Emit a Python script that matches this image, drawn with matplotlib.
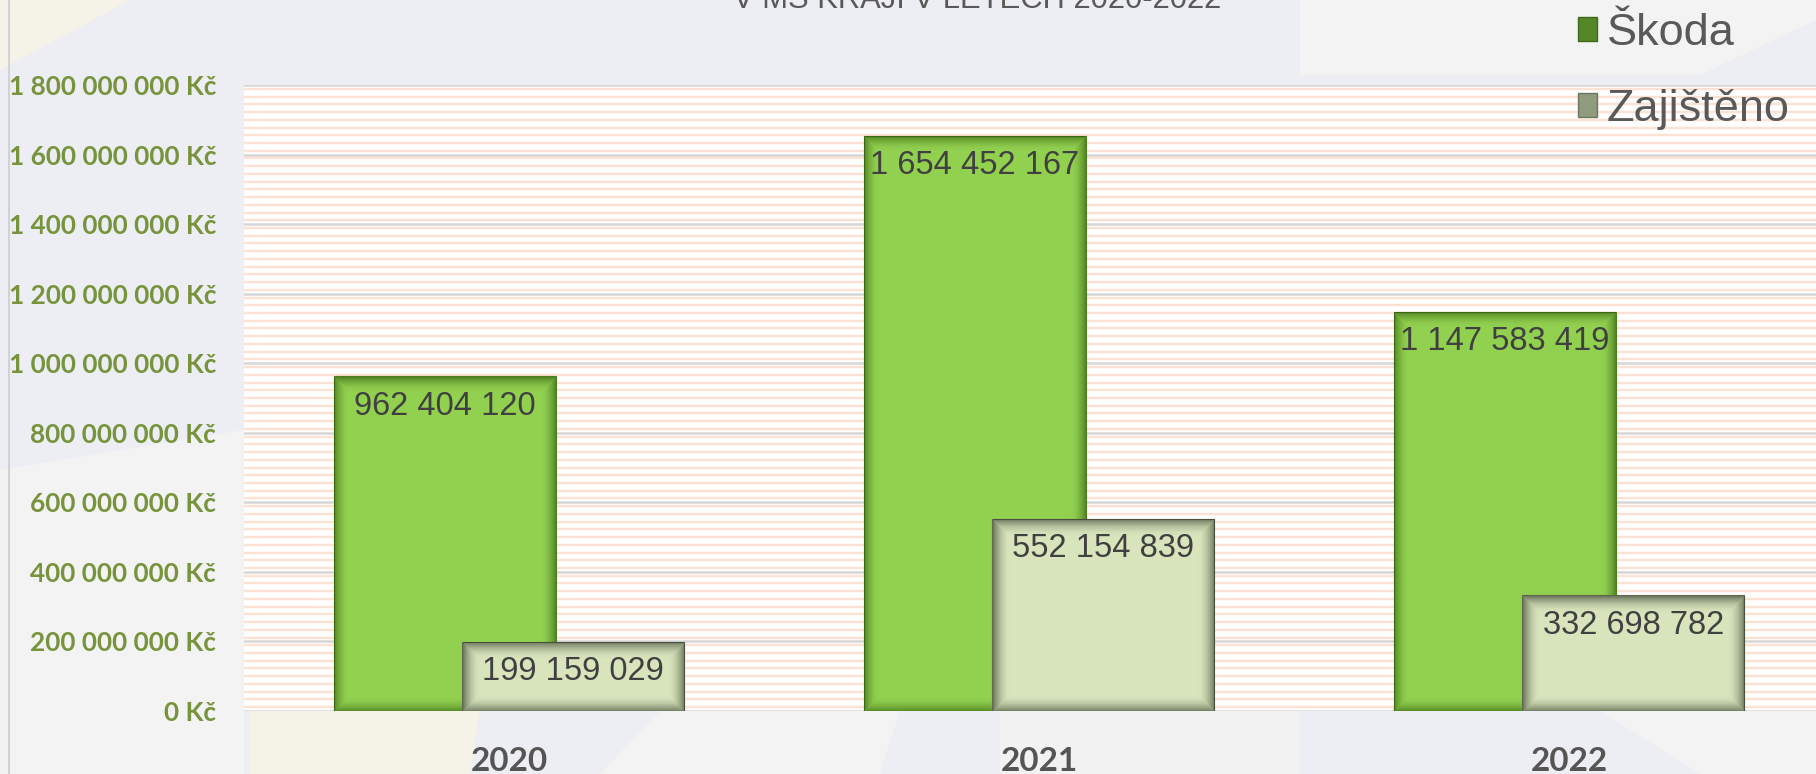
import numpy as np
import matplotlib
matplotlib.use("Agg")
import matplotlib.pyplot as plt
from matplotlib.patches import Rectangle, Polygon, Patch
from matplotlib.lines import Line2D
from matplotlib.transforms import IdentityTransform

# ---------------- data ----------------
years = ["2020", "2021", "2022"]
skoda = [962404120, 1654452167, 1147583419]
zajisteno = [199159029, 552154839, 332698782]
series_names = ["Škoda", "Zajištěno"]
title_text = "V MS KRAJI V LETECH 2020-2022"
y_max = 1_800_000_000
y_step = 200_000_000

# ---------------- figure ----------------
W, H, DPI = 1816, 774, 100
fig = plt.figure(figsize=(W / DPI, H / DPI), dpi=DPI)
fig.patch.set_facecolor("#ECEEF3")


def fp(x, y):
    return (x / W, 1 - y / H)


background = [
    ([(0, 0), (130, 0), (0, 70)], "#F5F2E8"),
    ([(1300, 0), (1816, 0), (1816, 20), (1700, 75), (1300, 75)], "#F3F3F4"),
    ([(0, 470), (244, 430), (244, 774), (0, 774)], "#F3F3F3"),
    ([(250, 711), (480, 711), (470, 774), (250, 774)], "#F5F2E8"),
    ([(660, 711), (900, 711), (880, 774), (600, 774)], "#F3F3F4"),
    ([(1000, 711), (1300, 711), (1300, 774), (1000, 774)], "#F2F2F3"),
    ([(1600, 711), (1816, 711), (1816, 774), (1700, 774)], "#F3F3F4"),
]
for pts, c in background:
    fig.add_artist(Polygon([fp(*p) for p in pts], closed=True,
                           transform=fig.transFigure, facecolor=c,
                           edgecolor="none", zorder=-5))
fig.add_artist(Line2D([9 / W, 9 / W], [0, 1], color="#D2D2D2", lw=1.5,
                      transform=fig.transFigure, zorder=-4))

ax = fig.add_axes([244 / W, 63 / H, (1834 - 244) / W, 626 / H])
ax.set_facecolor("white")
x = np.arange(len(years))
bw = 0.419
off = 0.121
ax.set_xlim(-0.5, len(years) - 0.5)
ax.set_ylim(0, y_max)

# striped plot-area fill
stripe = y_step / 9
for yv in np.arange(stripe / 2, y_max, stripe):
    ax.axhline(yv, color="#FCE2D2", lw=1.7, zorder=0.2)

yt = np.arange(0, y_max + 1, y_step)
ax.set_yticks(yt)
ax.set_yticklabels([f"{int(v):,} Kč".replace(",", " ") for v in yt],
                   fontsize=18.8, fontweight="bold", family="Lato",
                   color="#77933C")
ax.tick_params(axis="y", length=0, pad=20)
ax.grid(axis="y", color="#D6D6D6", lw=1.8)
ax.set_axisbelow(True)

ax.set_xticks(x)
ax.set_xticklabels(years, fontsize=24, fontweight="bold", family="Lato",
                   color="#555555")
ax.tick_params(axis="x", length=0, pad=26)
for s in ax.spines.values():
    s.set_visible(False)

b1 = ax.bar(x - off, skoda, bw, color="#92D050", edgecolor="#4F7D22",
            lw=0.8, zorder=2)
b2 = ax.bar(x + off, zajisteno, bw, color="#D8E4BC", edgecolor="#5F6A50",
            lw=0.8, zorder=3)


def inner_shadow(bar, color, depth, amax, z):
    (x0, y0), (x1, y1) = ax.transData.transform(
        [(bar.get_x(), bar.get_y()),
         (bar.get_x() + bar.get_width(), bar.get_y() + bar.get_height())])
    for i in range(depth):
        a = amax * (1 - i / depth) ** 2
        r = Rectangle((x0 + i + 0.5, y0 + i + 0.5), (x1 - x0) - 2 * i - 1,
                      (y1 - y0) - 2 * i - 1, transform=IdentityTransform(),
                      fill=False, edgecolor=color, alpha=a, lw=0.75,
                      zorder=z)
        ax.add_artist(r)


for bar in b1:
    inner_shadow(bar, "#2F5A0C", 15, 0.6, 2.1)
for bar in b2:
    inner_shadow(bar, "#3C4433", 17, 0.65, 3.1)

for bars, vals in ((b1, skoda), (b2, zajisteno)):
    for bar, v in zip(bars, vals):
        ax.annotate(f"{v:,}".replace(",", " "),
                    (bar.get_x() + bar.get_width() / 2, v),
                    xytext=(0, -30 * 72 / DPI), textcoords="offset points",
                    ha="center", va="center", fontsize=23.5, color="#404040",
                    family="Liberation Sans", zorder=6)

handles = [Patch(facecolor="#55862A", edgecolor="#3E6A1A"),
           Patch(facecolor="#8E9B7C", edgecolor="#6B7660")]
fig.legend(handles, series_names, loc="upper left",
           bbox_to_anchor=(1578 / W, 1 - 13 / H), frameon=False,
           prop={"family": "Liberation Sans", "size": 32.5},
           labelcolor="#595959", handlelength=0.42, handleheight=0.42,
           handletextpad=0.22, labelspacing=0.78, borderaxespad=0,
           borderpad=0)

fig.text(977 / W, 1 - 8 / H, title_text, ha="center", va="baseline",
         fontsize=22.3, color="#595959", family="Liberation Sans")

fig.savefig("out.png", dpi=DPI, facecolor=fig.get_facecolor())
